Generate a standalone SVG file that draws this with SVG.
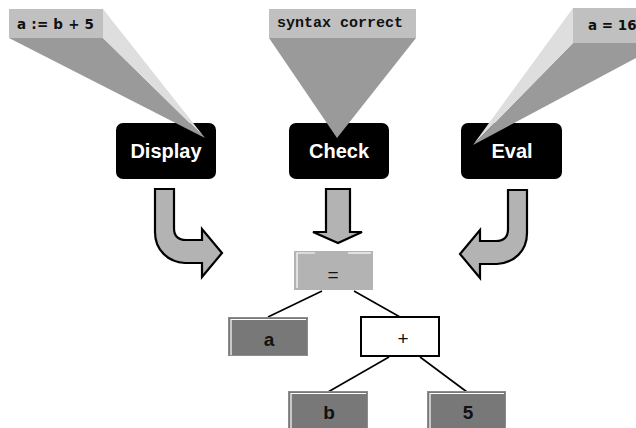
<svg xmlns="http://www.w3.org/2000/svg" width="636" height="428" viewBox="0 0 636 428">
<style>
.lbl{fill:#c0c0c0}
.dark{fill:#9a9a9a}
.light{fill:#dedede}
.node{fill:#000}
.ntxt{font-family:"Liberation Sans",Arial,sans-serif;font-size:20px;font-weight:bold;fill:#fff;text-anchor:middle}
.ctxt{font-family:"DejaVu Sans",Verdana,sans-serif;font-size:13.5px;font-weight:bold;fill:#111}
.mtxt{font-family:"Liberation Mono","Courier New",monospace;font-size:15px;font-weight:bold;fill:#111}
.arrow{fill:#b3b3b3;stroke:#000;stroke-width:2.2;stroke-linejoin:miter}
.leaf{fill:#787878;stroke:#8c8c8c;stroke-width:1}
.hl{fill:none;stroke:#fff;stroke-width:1.2}
.ttxt{font-family:"Liberation Sans",Arial,sans-serif;font-size:19px;fill:#111;text-anchor:middle}
.edge{stroke:#000;stroke-width:1.6;fill:none}
</style>
<rect width="636" height="428" fill="#fff"/>

<g id="node-display">
<rect class="node" x="116" y="123" width="100" height="56" rx="7"/>
<text class="ntxt" x="166" y="158">Display</text>
</g>
<g id="node-check">
<rect class="node" x="289" y="123" width="100" height="56" rx="7"/>
<text class="ntxt" x="339" y="158">Check</text>
</g>
<g id="node-eval">
<rect class="node" x="461" y="123" width="101" height="56" rx="7"/>
<text class="ntxt" x="512" y="158">Eval</text>
</g>

<g id="callout-display">
<polygon class="dark" points="9,38 103,38 205,138"/>
<polygon class="light" points="103,9 103,38 205,138"/>
<rect class="lbl" x="9" y="9" width="94" height="29"/>
<text class="ctxt" x="17" y="29" textLength="77" lengthAdjust="spacing">a := b + 5</text>
</g>
<g id="callout-check">
<polygon class="dark" points="269,38 416,38 337,138"/>
<rect class="lbl" x="269" y="9" width="147" height="29"/>
<text class="mtxt" x="277" y="27">syntax correct</text>
</g>
<g id="callout-eval">
<polygon class="dark" points="573,43 664,43 473,145"/>
<polygon class="light" points="573,8 573,43 473,145"/>
<rect class="lbl" x="573" y="8" width="70" height="35"/>
<text class="ctxt" x="588" y="30">a = 16</text>
</g>

<g id="connectors">
<path class="arrow" d="M155,189 H174 V228 Q174,240 186,240 H202 V229 L222,253 L202,277 V263 H185 C168,262 155,250 155,232 Z"/>
<path class="arrow" transform="translate(682,1) scale(-1,1)" d="M155,189 H174 V228 Q174,240 186,240 H202 V229 L222,253 L202,277 V263 H185 C168,262 155,250 155,232 Z"/>
<path class="arrow" d="M326,189 H350 V232 H362 L338,243 L313,232 H326 Z"/>
<line class="edge" x1="322" y1="291" x2="268" y2="317"/>
<line class="edge" x1="354" y1="291" x2="400" y2="317"/>
<line class="edge" x1="389" y1="357" x2="328" y2="392"/>
<line class="edge" x1="420" y1="357" x2="467" y2="392"/>
</g>

<g id="node-eq">
<rect x="294" y="251" width="79" height="39" fill="#b3b3b3"/>
<polyline class="hl" points="297,288 297,253 315,253"/>
<line class="hl" x1="348" y1="253" x2="371" y2="253"/>
<text class="ttxt" x="333" y="281">=</text>
</g>
<g id="node-a">
<rect class="leaf" x="228.5" y="317.5" width="79" height="38"/>
<polyline class="hl" points="231,355 231,319.5 306,319.5"/>
<text class="ttxt" x="269" y="346" style="font-weight:bold">a</text>
</g>
<g id="node-plus">
<rect x="361" y="317" width="78" height="39" fill="#fff" stroke="#000" stroke-width="2"/>
<text class="ttxt" x="403" y="345">+</text>
</g>
<g id="node-b">
<rect class="leaf" x="288.5" y="391.5" width="79" height="40"/>
<polyline class="hl" points="291,430 291,393.5 366,393.5"/>
<text class="ttxt" x="329" y="419" style="font-weight:bold">b</text>
</g>
<g id="node-5">
<rect class="leaf" x="427.5" y="391.5" width="78" height="40"/>
<polyline class="hl" points="430,430 430,393.5 504,393.5"/>
<text class="ttxt" x="468" y="419" style="font-weight:bold">5</text>
</g>
</svg>
